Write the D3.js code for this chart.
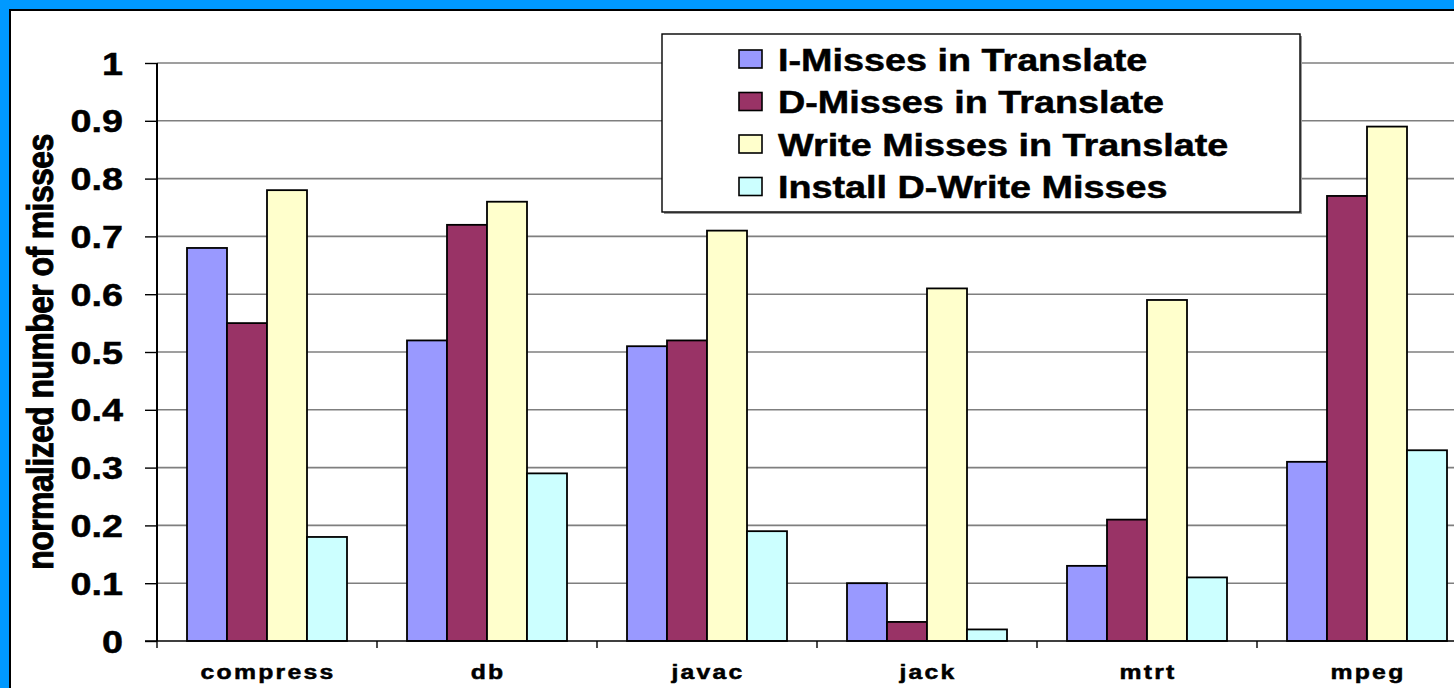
<!DOCTYPE html>
<html>
<head>
<meta charset="utf-8">
<script src="https://cdn.jsdelivr.net/npm/d3@7"></script>
<style>
  html, body { margin: 0; padding: 0; background: #0099FF; overflow: hidden; }
  svg { display: block; }
  text { font-family: "Liberation Sans", Arial, sans-serif; font-weight: bold; fill: #000; stroke: #000; stroke-width: 0.5px; }
</style>
</head>
<body>
<svg id="chart" width="1454" height="688"></svg>
<script>
// Benchmarks along the x axis
const categories = ["compress", "db", "javac", "jack", "mtrt", "mpeg"];

// Miss categories (legend order)
const seriesNames = [
  "I-Misses in Translate",
  "D-Misses in Translate",
  "Write Misses in Translate",
  "Install D-Write Misses"
];

// Normalized miss counts per benchmark, one array per series
const iMissesTranslate     = [0.68, 0.52, 0.51, 0.10, 0.13, 0.31];
const dMissesTranslate     = [0.55, 0.72, 0.52, 0.033, 0.21, 0.77];
const writeMissesTranslate = [0.78, 0.76, 0.71, 0.61, 0.59, 0.89];
const installDWriteMisses  = [0.18, 0.29, 0.19, 0.02, 0.11, 0.33];

const yTicks = [0, 0.1, 0.2, 0.3, 0.4, 0.5, 0.6, 0.7, 0.8, 0.9, 1];
const yTitle = "normalized number of misses";

const seriesValues = [iMissesTranslate, dMissesTranslate, writeMissesTranslate, installDWriteMisses];
const colors = ["#9999FF", "#993366", "#FFFFCC", "#CCFFFF"];

const svg = d3.select("#chart");
const SX = 1.18; // horizontal stretch applied to all lettering

// Frame: blue surround with thin black rule around the white chart area
svg.append("rect").attr("x", 0).attr("y", 0).attr("width", 1454).attr("height", 688).attr("fill", "#0099FF");
svg.append("rect").attr("x", 10).attr("y", 10).attr("width", 1500).attr("height", 700)
  .attr("fill", "#fff").attr("stroke", "#000").attr("stroke-width", 2);

const plotLeft = 157, plotTop = 63, plotBottom = 641;
const bandW = 220;

const x = d3.scaleBand().domain(categories)
  .range([plotLeft, plotLeft + bandW * categories.length]).paddingInner(0).paddingOuter(0);
const xs = d3.scaleBand().domain(d3.range(seriesNames.length)).range([30, 190]);
const y = d3.scaleLinear().domain([0, 1]).range([plotBottom, plotTop]);

// Gridlines
svg.append("g").selectAll("line").data(yTicks.filter(d => d > 0)).join("line")
  .attr("x1", plotLeft).attr("x2", 1500)
  .attr("y1", d => y(d)).attr("y2", d => y(d))
  .attr("stroke", "#7f7f7f").attr("stroke-width", 1.6);

// Bars
const groups = svg.append("g").selectAll("g").data(categories).join("g")
  .attr("transform", d => `translate(${x(d)},0)`);
groups.selectAll("rect")
  .data((c, ci) => seriesValues.map((vals, si) => ({ si, v: vals[ci] })))
  .join("rect")
  .attr("x", d => xs(d.si))
  .attr("width", xs.bandwidth())
  .attr("y", d => y(d.v))
  .attr("height", d => y(0) - y(d.v))
  .attr("fill", d => colors[d.si])
  .attr("stroke", "#000").attr("stroke-width", 1.8);

// Y axis
const yAxis = d3.axisLeft(y).tickValues(yTicks).tickSize(12).tickFormat("");
const gy = svg.append("g").attr("transform", `translate(${plotLeft},0)`).call(yAxis);
gy.select(".domain").attr("stroke", "#000").attr("stroke-width", 2).attr("d", `M0,${plotTop}V${plotBottom}`);
gy.selectAll(".tick line").attr("stroke", "#000").attr("stroke-width", 1.4);

// X axis baseline and category separators
const xAxis = d3.axisBottom(x).tickSize(0).tickFormat("");
const gx = svg.append("g").attr("transform", `translate(0,${plotBottom})`).call(xAxis);
gx.select(".domain").attr("stroke", "#000").attr("stroke-width", 1.6)
  .attr("d", `M${plotLeft - 12},0H1500`);
gx.selectAll(".tick").remove();
svg.append("g").selectAll("line").data(d3.range(categories.length + 1)).join("line")
  .attr("x1", i => plotLeft + i * bandW).attr("x2", i => plotLeft + i * bandW)
  .attr("y1", plotBottom).attr("y2", plotBottom + 7)
  .attr("stroke", "#000").attr("stroke-width", 1.4);

// Y tick labels
svg.append("g").selectAll("text").data(yTicks).join("text")
  .attr("transform", d => `translate(123,${y(d) + 11.5}) scale(${SX},1)`)
  .attr("text-anchor", "end")
  .style("font-size", "32px")
  .text(d => d3.format("")(d));

// Category labels
svg.append("g").selectAll("text").data(categories).join("text")
  .attr("transform", d => `translate(${x(d) + bandW / 2 + 1},679) scale(${SX},1)`)
  .attr("text-anchor", "middle")
  .style("font-size", "21px")
  .style("letter-spacing", "1.9px")
  .text(d => d);

// Y axis title
svg.append("text")
  .attr("transform", `translate(53,352) scale(${SX},1) rotate(-90)`)
  .attr("text-anchor", "middle")
  .style("font-size", "32px")
  .style("letter-spacing", "-0.6px")
  .style("stroke-width", "0.8px")
  .text(yTitle);

// Legend
const lg = svg.append("g");
lg.append("rect").attr("x", 664).attr("y", 36).attr("width", 638).attr("height", 178).attr("fill", "#999");
lg.append("rect").attr("x", 662).attr("y", 34).attr("width", 638).attr("height", 178)
  .attr("fill", "#fff").attr("stroke", "#000").attr("stroke-width", 1.4);
const rowY = d3.scalePoint().domain(d3.range(seriesNames.length)).range([59, 186.5]);
const rows = lg.selectAll("g.row").data(seriesNames).join("g").attr("class", "row");
rows.append("rect")
  .attr("x", 739).attr("y", (d, i) => rowY(i) - 9)
  .attr("width", 23).attr("height", 18)
  .attr("fill", (d, i) => colors[i]).attr("stroke", "#000").attr("stroke-width", 1.6);
rows.append("text")
  .attr("transform", (d, i) => `translate(778,${rowY(i) + 11.5}) scale(${SX},1)`)
  .style("font-size", "32px")
  .text(d => d);
</script>
</body>
</html>
